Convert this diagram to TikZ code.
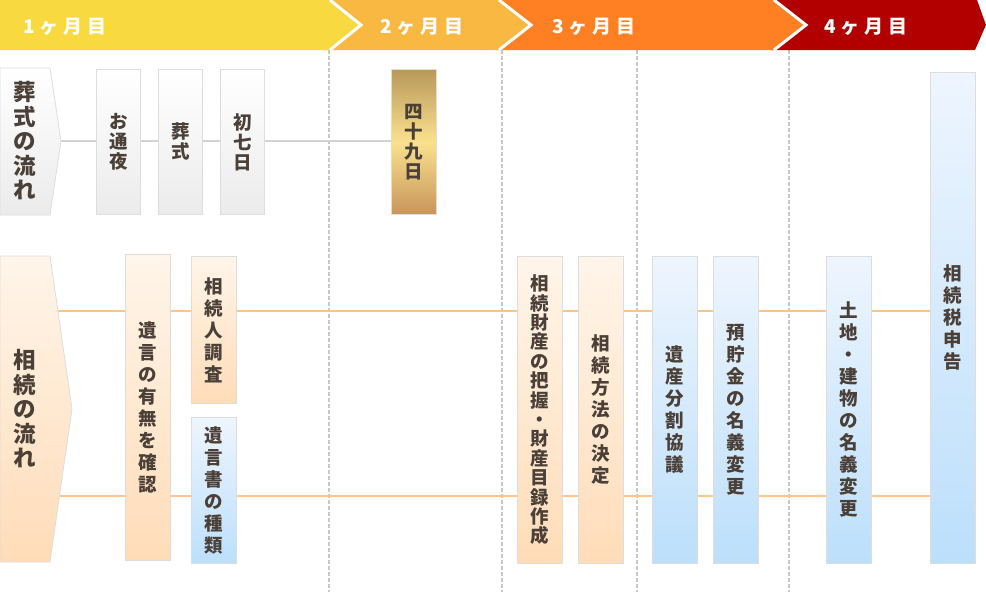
\documentclass[tikz,border=0pt]{standalone}
\usepackage{fontspec}
\newfontfamily\cjk{Noto Sans CJK JP}
\usetikzlibrary{positioning, calc, backgrounds}

\definecolor{txtBrown}{HTML}{4A4038}
\definecolor{boxLine}{HTML}{DDDDDD}
\definecolor{grayTop}{HTML}{FFFFFF}
\definecolor{grayBot}{HTML}{EBEBEB}
\definecolor{peachTop}{HTML}{FFF5EA}
\definecolor{peachBot}{HTML}{FFDCB8}
\definecolor{blueTop}{HTML}{EEF5FE}
\definecolor{blueBot}{HTML}{BCDFFB}
\definecolor{goldTop}{HTML}{B8985A}
\definecolor{goldMid}{HTML}{FAE18E}
\definecolor{goldBot}{HTML}{C8955A}
\definecolor{monthA}{HTML}{F8D940}
\definecolor{monthB}{HTML}{F9B841}
\definecolor{monthC}{HTML}{FF8023}
\definecolor{monthD}{HTML}{B20000}
\definecolor{flowGray}{HTML}{D2D2D2}
\definecolor{flowOrange}{HTML}{FFC48A}
\definecolor{sepGray}{HTML}{C8C8C8}

\newcommand{\mgap}{\hspace{5pt}}

\tikzset{
  box/.style={draw=boxLine, line width=0.8pt, inner sep=0pt, minimum width=45pt,
    anchor=north west, align=center, text=txtBrown,
    font=\cjk\bfseries\fontsize{18.5}{22}\selectfont},
  grayBox/.style={box, top color=grayTop, bottom color=grayBot,
    font=\cjk\bfseries\fontsize{18.5}{20}\selectfont},
  goldBox/.style={box, top color=goldTop, bottom color=goldBot, middle color=goldMid,
    font=\cjk\bfseries\fontsize{18.5}{20}\selectfont},
  peachBox/.style={box, top color=peachTop, bottom color=peachBot},
  blueBox/.style={box, top color=blueTop, bottom color=blueBot},
  flowText/.style={align=center, text=txtBrown, inner sep=0pt,
    font=\cjk\bfseries\fontsize{22.5}{24.5}\selectfont},
  monthText/.style={text=white, inner sep=0pt, font=\cjk\bfseries\fontsize{19}{22}\selectfont},
  sepLine/.style={sepGray, line width=1.2pt, dash pattern=on 4pt off 2pt}
}

\begin{document}
\begin{tikzpicture}[x=1pt, y=-1pt, >=stealth]
    \useasboundingbox (0,0) rectangle (986,592);

    % Month bar
    \fill[monthD] (770,0) -- (977,0) -- (986,25) -- (975,50) -- (770,50) -- cycle;
    \fill[monthC] (495,0) -- (774,0) -- (806,25) -- (774,50) -- (495,50) -- cycle;
    \draw[white, line width=3pt] (774,0) -- (806,25) -- (774,50);
    \fill[monthB] (325,0) -- (499,0) -- (531,25) -- (499,50) -- (325,50) -- cycle;
    \draw[white, line width=3pt] (499,0) -- (531,25) -- (499,50);
    \fill[monthA] (0,0) -- (330,0) -- (361,25) -- (330,50) -- (0,50) -- cycle;
    \draw[white, line width=3pt] (330,0) -- (361,25) -- (330,50);

    \node[monthText] (month1) at (65,27) {1\mgap ヶ\mgap 月\mgap 目};
    \node[monthText] (month2) at (422,27) {2\mgap ヶ\mgap 月\mgap 目};
    \node[monthText] (month3) at (594,27) {3\mgap ヶ\mgap 月\mgap 目};
    \node[monthText] (month4) at (866,27) {4\mgap ヶ\mgap 月\mgap 目};

    % Flow arrows
    \path[draw=boxLine, line width=0.8pt, top color=grayTop, bottom color=grayBot]
        (0,68) -- (50,68) -- (61,141) -- (50,215) -- (0,215) -- cycle;
    \node[flowText] (funeralFlow) at (25,141) {葬\\式\\の\\流\\れ};
    \path[draw=boxLine, line width=0.8pt, top color=peachTop, bottom color=peachBot]
        (0,256) -- (50,256) -- (72,409) -- (50,562) -- (0,562) -- cycle;
    \node[flowText] (inheritFlow) at (25,409) {相\\続\\の\\流\\れ};

    % Funeral steps
    \node[grayBox, minimum width=44pt, minimum height=145pt] (otsuya) at (96,69) {お\\通\\夜};
    \node[grayBox, minimum width=44pt, minimum height=145pt] (sougi) at (158,69) {葬\\式};
    \node[grayBox, minimum width=44pt, minimum height=145pt] (shonanoka) at (220,69) {初\\七\\日};
    \node[goldBox, minimum height=145pt] (shijuku) at (391,69) {四\\十\\九\\日};

    % Inheritance steps
    \node[peachBox, minimum height=306pt] (willCheck) at (125,254) {遺\\言\\の\\有\\無\\を\\確\\認};
    \node[peachBox, minimum height=147pt] (heirSurvey) at (191,256) {相\\続\\人\\調\\査};
    \node[blueBox, minimum height=146pt] (willType) at (191,417) {遺\\言\\書\\の\\種\\類};
    \node[peachBox, minimum height=307pt, font=\cjk\bfseries\fontsize{18.5}{19.4}\selectfont]
        (estateList) at (517,256) {相\\続\\財\\産\\の\\把\\握\\・\\財\\産\\目\\録\\作\\成};
    \node[peachBox, minimum height=307pt] (methodDecide) at (578,256) {相\\続\\方\\法\\の\\決\\定};
    \node[blueBox, minimum height=307pt] (divisionTalk) at (652,256) {遺\\産\\分\\割\\協\\議};
    \node[blueBox, minimum height=307pt] (depositTransfer) at (713,256) {預\\貯\\金\\の\\名\\義\\変\\更};
    \node[blueBox, minimum height=307pt] (landTransfer) at (826,256) {土\\地\\・\\建\\物\\の\\名\\義\\変\\更};
    \node[blueBox, minimum height=491pt] (taxReturn) at (930,72) {相\\続\\税\\申\\告};

    % Connectors and month separators
    \coordinate (orangeA) at (50,311);
    \coordinate (orangeB) at (50,496);
    \begin{scope}[on background layer]
        \draw[sepLine] (329,50) -- (329,592);
        \draw[sepLine] (502,50) -- (502,592);
        \draw[sepLine] (637,50) -- (637,592);
        \draw[sepLine] (789,50) -- (789,592);
        \draw[flowGray, line width=1.5pt] (funeralFlow) -- (funeralFlow -| shijuku.west);
        \draw[flowOrange, line width=1.5pt] (orangeA) -- (orangeA -| taxReturn.west);
        \draw[flowOrange, line width=1.5pt] (orangeB) -- (orangeB -| taxReturn.west);
    \end{scope}
\end{tikzpicture}
\end{document}
